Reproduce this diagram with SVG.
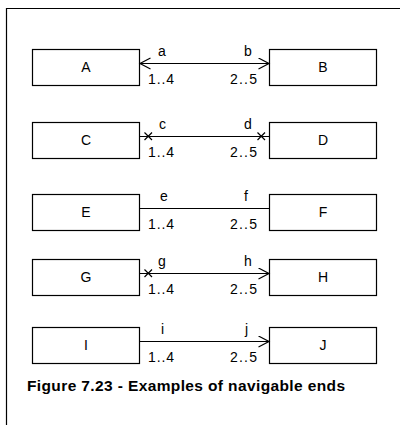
<svg xmlns="http://www.w3.org/2000/svg" width="400" height="425" viewBox="0 0 400 425">
<style>
.box{fill:#fff;stroke:#000;stroke-width:1.2}
.ln{fill:none;stroke:#000;stroke-width:1.2}
text{font-family:"Liberation Sans",Arial,sans-serif;font-size:14px;fill:#000}
.nm{text-anchor:middle}
.cap{font-size:15.5px;font-weight:bold}
</style>
<defs>
<marker id="arr" markerWidth="14" markerHeight="14" refX="11" refY="6" orient="auto-start-reverse" markerUnits="userSpaceOnUse">
<path d="M0.5,0.5 L11,6 L0.5,11.5" fill="none" stroke="#000" stroke-width="1.2"/>
</marker>
</defs>
<rect x="0" y="0" width="400" height="425" fill="#fff"/>
<path d="M6.5,425 V8.5 H400" fill="none" stroke="#000" stroke-width="1.2"/>
<g id="A"><rect class="box" x="32.5" y="49.5" width="107" height="36"/><text class="nm" x="86" y="72">A</text></g>
<g id="B"><rect class="box" x="269.5" y="49.5" width="107" height="36"/><text class="nm" x="323" y="72">B</text></g>
<g id="C"><rect class="box" x="32.5" y="122.5" width="107" height="36"/><text class="nm" x="86" y="145">C</text></g>
<g id="D"><rect class="box" x="269.5" y="122.5" width="107" height="36"/><text class="nm" x="323" y="145">D</text></g>
<g id="E"><rect class="box" x="32.5" y="194.5" width="107" height="36"/><text class="nm" x="86" y="217">E</text></g>
<g id="F"><rect class="box" x="269.5" y="194.5" width="107" height="36"/><text class="nm" x="323" y="217">F</text></g>
<g id="G"><rect class="box" x="32.5" y="259.5" width="107" height="36"/><text class="nm" x="86" y="282">G</text></g>
<g id="H"><rect class="box" x="269.5" y="259.5" width="107" height="36"/><text class="nm" x="323" y="282">H</text></g>
<g id="I"><rect class="box" x="32.5" y="327.5" width="107" height="36"/><text class="nm" x="86" y="350">I</text></g>
<g id="J"><rect class="box" x="269.5" y="327.5" width="107" height="36"/><text class="nm" x="323" y="350">J</text></g>
<g id="connectors">
<line class="ln" x1="140" y1="63.5" x2="269" y2="63.5" marker-start="url(#arr)" marker-end="url(#arr)"/>
<line class="ln" x1="140" y1="136.5" x2="269" y2="136.5"/>
<path class="ln" d="M144.5,132.5 L152,140 M152,132.5 L144.5,140"/>
<path class="ln" d="M257.5,132.5 L265,140 M265,132.5 L257.5,140"/>
<line class="ln" x1="140" y1="208.5" x2="269" y2="208.5"/>
<line class="ln" x1="140" y1="273.5" x2="269" y2="273.5" marker-end="url(#arr)"/>
<path class="ln" d="M144.5,269.5 L152,277 M152,269.5 L144.5,277"/>
<line class="ln" x1="140" y1="341.5" x2="269" y2="341.5" marker-end="url(#arr)"/>
</g>
<g id="labels">
<text x="158" y="56">a</text><text x="244" y="56">b</text>
<text x="148" y="84" textLength="26">1..4</text><text x="230" y="84" textLength="27">2..5</text>
<text x="159" y="129">c</text><text x="244" y="129">d</text>
<text x="148" y="157" textLength="26">1..4</text><text x="230" y="157" textLength="27">2..5</text>
<text x="160" y="201">e</text><text x="244" y="201">f</text>
<text x="148" y="229" textLength="26">1..4</text><text x="230" y="229" textLength="27">2..5</text>
<text x="158" y="266">g</text><text x="244" y="266">h</text>
<text x="148" y="294" textLength="26">1..4</text><text x="230" y="294" textLength="27">2..5</text>
<text x="161" y="334">i</text><text x="245" y="334">j</text>
<text x="148" y="362" textLength="26">1..4</text><text x="230" y="362" textLength="27">2..5</text>
</g>
<text class="cap" x="27" y="391" textLength="318">Figure 7.23 - Examples of navigable ends</text>
</svg>
